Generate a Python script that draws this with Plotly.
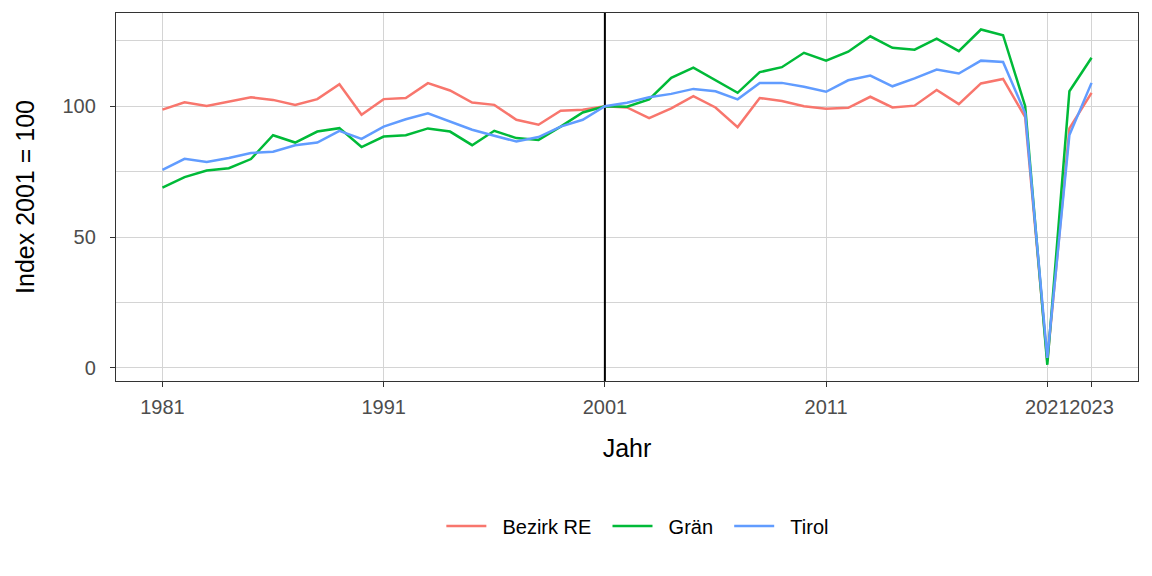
import plotly.graph_objects as go

years = list(range(1981, 2024))

bezirk_re = [98.7, 101.5, 100.1, 101.8, 103.4, 102.4, 100.5, 102.7, 108.4, 96.7,
             102.7, 103.1, 108.8, 106.0, 101.4, 100.5, 94.8, 92.9, 98.3, 98.6,
             100.0, 99.5, 95.4, 99.2, 103.8, 99.5, 92.0, 103.1, 102.0, 100.0,
             99.0, 99.4, 103.6, 99.5, 100.2, 106.2, 100.8, 108.7, 110.4, 95.8,
             2.5, 91.5, 105.1]

graen = [68.9, 72.9, 75.4, 76.3, 79.8, 88.9, 86.1, 90.3, 91.6, 84.4,
         88.4, 88.9, 91.5, 90.3, 85.1, 90.6, 87.8, 87.1, 92.2, 97.6,
         100.0, 99.8, 102.6, 110.8, 114.7, 109.9, 105.1, 113.0, 114.9, 120.4,
         117.4, 120.8, 126.7, 122.3, 121.6, 125.8, 121.0, 129.3, 127.1, 100.0,
         1.2, 105.7, 118.5]

tirol = [75.7, 79.9, 78.7, 80.2, 82.1, 82.6, 85.1, 86.1, 90.6, 87.5,
         92.2, 95.0, 97.3, 94.1, 91.0, 88.7, 86.5, 88.2, 92.2, 94.8,
         100.0, 101.3, 103.4, 104.7, 106.6, 105.7, 102.6, 108.9, 108.9, 107.4,
         105.5, 109.9, 111.7, 107.6, 110.6, 114.0, 112.5, 117.4, 116.9, 97.3,
         3.8, 89.0, 108.9]

series_names = ["Bezirk RE", "Grän", "Tirol"]
series_values = [bezirk_re, graen, tirol]
series_colors = ["#F8766D", "#00BA38", "#619CFF"]

x_ticks = [1981, 1991, 2001, 2011, 2021, 2023]
y_ticks = [0, 50, 100]
y_minor = [25, 75, 125]
ref_year = 2001
x_range = [1978.9, 2025.1]
y_range = [-5.0, 135.6]

FONT = "Liberation Sans, Arial, sans-serif"
GRID = "#D4D4D4"
BORDER = "#333333"
NB = "\u00a0"

fig = go.Figure()
# reference line at 2001, spanning the full y range, drawn beneath the series
fig.add_trace(go.Scatter(x=[ref_year, ref_year], y=y_range, mode="lines",
                         line=dict(color="black", width=2), showlegend=False,
                         hoverinfo="skip"))
for name, vals, col in zip(series_names, series_values, series_colors):
    fig.add_trace(go.Scatter(x=years, y=vals, mode="lines",
                             name=NB * 2 + name + NB * 2,
                             line=dict(color=col, width=2.5)))

fig.update_layout(
    width=1152, height=576,
    paper_bgcolor="white", plot_bgcolor="white",
    margin=dict(l=116, r=14, t=13, b=195),
    font=dict(family=FONT, color="black"),
    showlegend=True,
    legend=dict(orientation="h", x=0.516, xanchor="center", y=-0.394, yanchor="middle",
                font=dict(size=20, color="black"), itemwidth=40,
                bgcolor="rgba(0,0,0,0)"),
    xaxis=dict(
        range=x_range, tickmode="array", tickvals=x_ticks,
        ticktext=[str(t) for t in x_ticks], tickangle=0,
        showgrid=True, gridcolor=GRID, gridwidth=1, zeroline=False,
        showline=True, linecolor=BORDER, linewidth=1.3, mirror=True,
        ticks="outside", ticklen=5, tickwidth=1, tickcolor=BORDER,
        tickfont=dict(size=20, color="#4D4D4D", family=FONT),
        ticklabelstandoff=3,
        title=dict(text="Jahr", font=dict(size=25, color="black", family=FONT), standoff=22),
    ),
    yaxis=dict(
        range=y_range, tickmode="array", tickvals=y_ticks,
        ticktext=[str(t) for t in y_ticks],
        showgrid=True, gridcolor=GRID, gridwidth=1, zeroline=False,
        showline=True, linecolor=BORDER, linewidth=1.3, mirror=True,
        ticks="outside", ticklen=5, tickwidth=1, tickcolor=BORDER,
        tickfont=dict(size=20, color="#4D4D4D", family=FONT),
        ticklabelstandoff=10,
        minor=dict(tickmode="array", tickvals=y_minor, showgrid=True, gridcolor=GRID,
                   gridwidth=1, ticks=""),
        title=dict(text="Index 2001 = 100", font=dict(size=25, color="black", family=FONT), standoff=20),
    ),
)

fig.write_html("out.html")
